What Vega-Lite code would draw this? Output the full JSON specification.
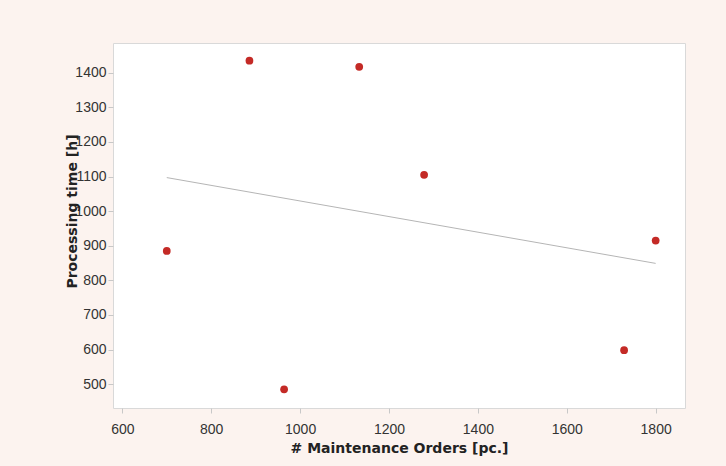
{
  "$schema": "https://vega.github.io/schema/vega-lite/v6.json",
  "autosize": {"type": "none"},
  "width": 572,
  "height": 365,
  "padding": {"left": 113, "top": 43, "right": 41, "bottom": 58},
  "background": "#fcf3ef",
  "config": {
    "view": {"fill": "#ffffff", "stroke": "#d9d9d9", "strokeWidth": 1},
    "axis": {
      "grid": false,
      "domain": false,
      "tickColor": "#c8c8c8",
      "tickSize": 5,
      "labelFont": "Liberation Sans",
      "labelFontSize": 14,
      "labelColor": "#333333",
      "titleFont": "DejaVu Sans",
      "titleFontSize": 14,
      "titleFontWeight": "bold",
      "titleColor": "#222222"
    }
  },
  "datasets": {
    "points": [
      {"orders": 700, "time": 885},
      {"orders": 886, "time": 1435},
      {"orders": 964, "time": 485},
      {"orders": 1133, "time": 1417},
      {"orders": 1279, "time": 1105},
      {"orders": 1729, "time": 598},
      {"orders": 1800, "time": 915}
    ],
    "fit": [
      {"orders": 700, "time": 1097},
      {"orders": 1800, "time": 849}
    ]
  },
  "layer": [
    {
      "data": {"name": "fit"},
      "mark": {"type": "line", "color": "#b5b5b5", "strokeWidth": 1},
      "encoding": {
        "x": {"field": "orders", "type": "quantitative"},
        "y": {"field": "time", "type": "quantitative"}
      }
    },
    {
      "data": {"name": "points"},
      "mark": {"type": "circle", "color": "#c42a26", "opacity": 1, "size": 60},
      "encoding": {
        "x": {
          "field": "orders",
          "type": "quantitative",
          "scale": {"domain": [579, 1866], "nice": false, "zero": false},
          "axis": {
            "title": "# Maintenance Orders [pc.]",
            "format": "d",
            "values": [600, 800, 1000, 1200, 1400, 1600, 1800],
            "labelPadding": 9,
            "titlePadding": 5
          }
        },
        "y": {
          "field": "time",
          "type": "quantitative",
          "scale": {"domain": [431, 1486], "nice": false, "zero": false},
          "axis": {
            "title": "Processing time [h]",
            "format": "d",
            "values": [500, 600, 700, 800, 900, 1000, 1100, 1200, 1300, 1400],
            "labelPadding": 2,
            "titleX": -41,
            "titleY": 168,
            "titleAngle": -90,
            "titleBaseline": "middle",
            "titleAlign": "center"
          }
        }
      }
    }
  ]
}
